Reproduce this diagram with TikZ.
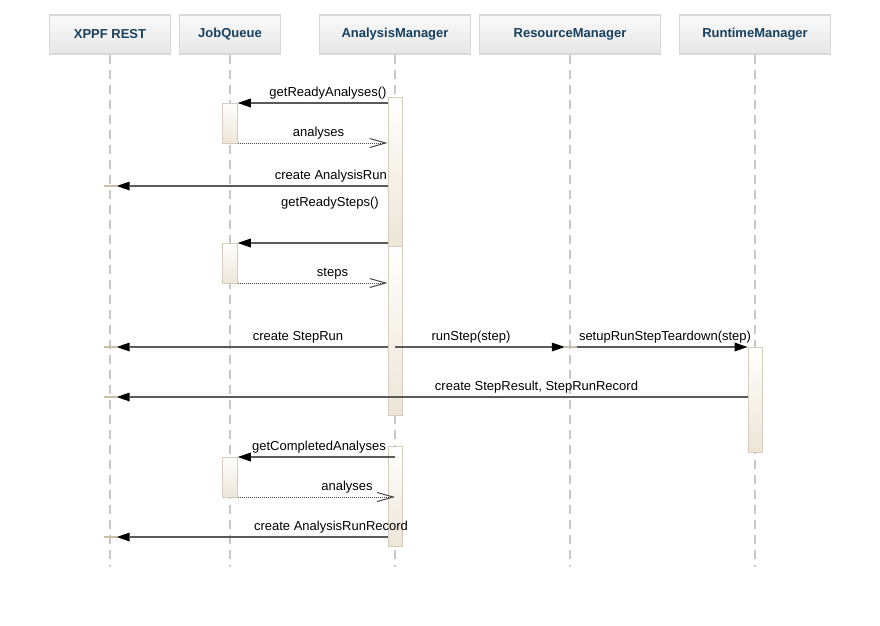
\documentclass[tikz,border=0pt]{standalone}
\usepackage{fontspec}
\setmainfont{Liberation Sans}
\usetikzlibrary{arrows.meta}
\definecolor{hdrtext}{HTML}{17405F}
\definecolor{hdrline}{HTML}{D8D8D8}
\definecolor{hdrtop}{HTML}{FAFAFA}
\definecolor{hdrbot}{HTML}{E6E6E6}
\definecolor{lifecol}{HTML}{C8C8C8}
\definecolor{actline}{HTML}{D5CDBD}
\definecolor{actfill}{HTML}{EDE6D8}
\definecolor{msgline}{HTML}{5A5A5A}
\definecolor{stubcol}{HTML}{C9BFA6}
\begin{document}
\begin{tikzpicture}[x=1pt,y=-1pt,
  hdr/.style={draw=hdrline, line width=1.3pt, top color=hdrtop, bottom color=hdrbot,
    font=\fontsize{13}{15}\selectfont\bfseries, text=hdrtext, inner sep=0pt,
    minimum height=39pt},
  life/.style={draw=lifecol, line width=1.8pt, dash pattern=on 9pt off 6pt},
  act/.style={draw=actline, line width=1pt, top color=white, bottom color=actfill,
    inner sep=0pt, minimum width=14pt},
  stubbar/.style={fill=stubcol, inner sep=0pt, minimum width=13pt, minimum height=2pt},
  msg/.style={draw=msgline, line width=1.5pt,
    -{Triangle[length=13pt,width=9pt,line width=0pt,fill=black,color=black]}},
  ret/.style={draw=msgline!80!black, line width=1pt, dash pattern=on 1pt off 1pt,
    -{Straight Barb[length=16pt,width=9pt,line width=1pt]}},
  lbl/.style={font=\fontsize{13}{15}\selectfont, text=black, inner sep=0pt, anchor=base}]
\useasboundingbox (0,0) rectangle (880,625);
\fill[white] (0,0) rectangle (880,625);

% headers
\node[hdr, minimum width=121pt] (xp) at (110,34.5) {XPPF REST};
\node[hdr, minimum width=101pt] (jq) at (230,34.5) {JobQueue};
\node[hdr, minimum width=151pt] (am) at (395,34.5) {AnalysisManager};
\node[hdr, minimum width=181pt] (rm) at (570,34.5) {ResourceManager};
\node[hdr, minimum width=151pt] (rt) at (755,34.5) {RuntimeManager};

% lifeline ends
\coordinate (xpe) at (110,567);
\coordinate (jqe) at (230,567);
\coordinate (ame) at (395,567);
\coordinate (rme) at (570,567);
\coordinate (rte) at (755,567);
\draw[life] (xp.south) -- (xpe);
\draw[life] (jq.south) -- (jqe);
\draw[life] (am.south) -- (ame);
\draw[life] (rm.south) -- (rme);
\draw[life] (rt.south) -- (rte);

% rows
\coordinate (r1) at (0,103);
\coordinate (r2) at (0,143);
\coordinate (r3) at (0,186);
\coordinate (r4) at (0,243);
\coordinate (r5) at (0,283);
\coordinate (r6) at (0,347);
\coordinate (r7) at (0,397);
\coordinate (r8) at (0,457);
\coordinate (r9) at (0,497);
\coordinate (r10) at (0,537);

% activation bars
\node[act, minimum height=149pt] (am1) at (395,171.5) {};
\node[act, minimum height=169pt] (am2) at (395,330.5) {};
\node[act, minimum height=100pt] (am3) at (395,496.5) {};
\node[act, minimum width=14.5pt, minimum height=40pt] (jq1) at (230,123) {};
\node[act, minimum width=14.5pt, minimum height=40pt] (jq2) at (230,263) {};
\node[act, minimum width=14.5pt, minimum height=40pt] (jq3) at (230,477) {};
\node[act, minimum height=105pt] (rt1) at (755,399.5) {};

% stubs
\node[stubbar] (s1) at (110,186) {};
\node[stubbar] (s2) at (110,347) {};
\node[stubbar] (s4) at (110,397) {};
\node[stubbar] (s5) at (110,537) {};
\node[stubbar, minimum width=12pt] (s3) at (571,347) {};

% messages
\draw[msg] (am1.west |- r1) -- (jq1.east |- r1);
\node[lbl] (l1) at (328,96) {getReadyAnalyses()};
\draw[ret] (jq1.east |- r2) -- (am1.west |- r2);
\node[lbl] (l2) at (318.5,136) {analyses};
\draw[msg] (am1.west |- r3) -- (s1.east);
\node[lbl, anchor=base east] (l3) at (387,179) {create AnalysisRun};
\node[lbl] (l4) at (330,206) {getReadySteps()};
\draw[msg] (am1.west |- r4) -- (jq2.east |- r4);
\draw[ret] (jq2.east |- r5) -- (am2.west |- r5);
\node[lbl] (l5) at (332.5,276) {steps};
\draw[msg] (am2.west |- r6) -- (s2.east);
\node[lbl] (l6) at (298,340) {create StepRun};
\draw[msg] (am2.center |- r6) -- (s3.west);
\node[lbl] (l7) at (471,340) {runStep(step)};
\draw[msg] (s3.east) -- (rt1.west |- r6);
\node[lbl] (l8) at (665,340) {setupRunStepTeardown(step)};
\draw[msg] (rt1.west |- r7) -- (s4.east);
\node[lbl] (l9) at (536.5,390) {create StepResult, StepRunRecord};
\draw[msg] (am3.center |- r8) -- (jq3.east |- r8);
\node[lbl] (l10) at (319,450) {getCompletedAnalyses};
\draw[ret] (jq3.east |- r9) -- (am3.center |- r9);
\node[lbl] (l11) at (347,490) {analyses};
\draw[msg] (am3.west |- r10) -- (s5.east);
\node[lbl] (l12) at (331,530) {create AnalysisRunRecord};
\end{tikzpicture}
\end{document}
